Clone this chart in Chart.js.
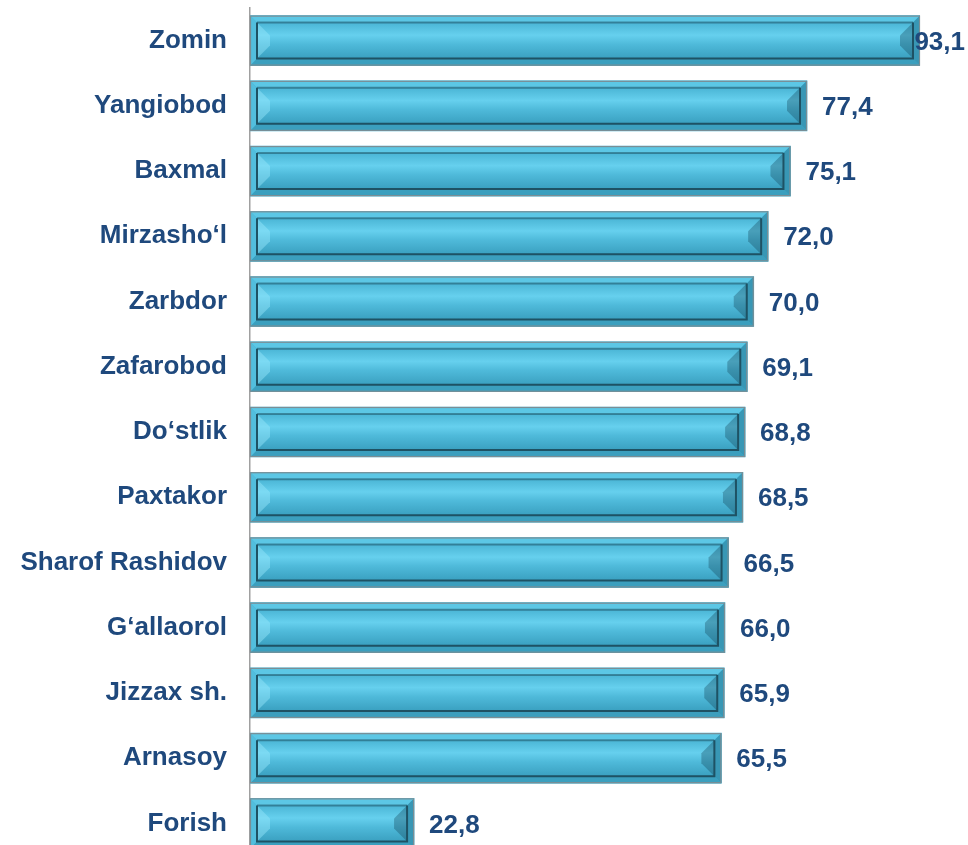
<!DOCTYPE html>
<html>
<head>
<meta charset="utf-8">
<script src="https://cdn.jsdelivr.net/npm/chart.js@4.4.0/dist/chart.umd.min.js"></script>
<style>
html,body{margin:0;padding:0;background:#fff;overflow:hidden;}
#wrap{position:absolute;left:0;top:0;width:968px;height:856px;}
</style>
</head>
<body>
<div id="wrap"><canvas id="c"></canvas></div>
<script>
const categories = ["Zomin","Yangiobod","Baxmal","Mirzasho‘l","Zarbdor","Zafarobod","Do‘stlik","Paxtakor","Sharof Rashidov","G‘allaorol","Jizzax sh.","Arnasoy","Forish"];
const values = [93.1,77.4,75.1,72.0,70.0,69.1,68.8,68.5,66.5,66.0,65.9,65.5,22.8];
const valueLabels = ["93,1","77,4","75,1","72,0","70,0","69,1","68,8","68,5","66,5","66,0","65,9","65,5","22,8"];

const TEXT = '#1F497D';
const FONT = 'bold 26px "Liberation Sans", Arial, sans-serif';

const bevelPlugin = {
  id: 'bevel',
  afterDatasetsDraw(chart) {
    const ctx = chart.ctx;
    const meta = chart.getDatasetMeta(0);
    meta.data.forEach((el) => {
      const p = el.getProps(['x','y','base','height'], true);
      const L = Math.min(p.base, p.x), R = Math.max(p.base, p.x);
      const T = p.y - p.height/2, B = p.y + p.height/2;
      const f = 7;
      ctx.save();
      const band = (pts, col) => { ctx.beginPath(); ctx.moveTo(pts[0][0],pts[0][1]); for (let i=1;i<pts.length;i++) ctx.lineTo(pts[i][0],pts[i][1]); ctx.closePath(); ctx.fillStyle = col; ctx.fill(); };
      band([[L,T],[R,T],[R-f,T+f],[L+f,T+f]], '#5CC7E5');
      band([[L,B],[R,B],[R-f,B-f],[L+f,B-f]], '#3B9FBE');
      band([[L,T],[L+f,T+f],[L+f,B-f],[L,B]], '#52BEDD');
      band([[R,T],[R-f,T+f],[R-f,B-f],[R,B]], '#3897B5');
      const iL = L+f, iR = R-f, iT = T+f, iB = B-f;
      const g = ctx.createLinearGradient(0, iT, 0, iB);
      g.addColorStop(0, '#4AB5D5');
      g.addColorStop(0.35, '#66D0EE');
      g.addColorStop(0.6, '#4FBADA');
      g.addColorStop(1, '#3AA0C0');
      ctx.fillStyle = g;
      ctx.fillRect(iL, iT, iR-iL, iB-iT);
      const w = 13;
      band([[iL,iT],[iL+w,iT+w],[iL+w,iB-w],[iL,iB]], 'rgba(150,230,250,0.45)');
      band([[iR,iT],[iR-w,iT+w],[iR-w,iB-w],[iR,iB]], 'rgba(20,70,90,0.35)');
      ctx.lineWidth = 2;
      ctx.strokeStyle = '#1E5264';
      ctx.beginPath();
      ctx.moveTo(iL, iT); ctx.lineTo(iL, iB); ctx.lineTo(iR, iB); ctx.lineTo(iR, iT);
      ctx.stroke();
      ctx.strokeStyle = 'rgba(30,82,100,0.55)';
      ctx.beginPath(); ctx.moveTo(iL, iT); ctx.lineTo(iR, iT); ctx.stroke();
      ctx.lineWidth = 1.2;
      ctx.strokeStyle = '#7A8E95';
      ctx.strokeRect(L+0.5, T+0.5, R-L-1, B-T-1);
      ctx.restore();
    });
  },
  afterDraw(chart) {
    const ctx = chart.ctx;
    const meta = chart.getDatasetMeta(0);
    ctx.save();
    ctx.font = FONT;
    ctx.fillStyle = TEXT;
    ctx.textBaseline = 'middle';
    ctx.textAlign = 'left';
    meta.data.forEach((el, i) => {
      const t = valueLabels[i];
      const tw = ctx.measureText(t).width;
      let x = el.x + 15;
      if (x + tw > chart.width - 3) x = chart.width - 3 - tw;
      ctx.fillText(t, x, el.y + 2);
    });
    ctx.restore();
  }
};

new Chart(document.getElementById('c'), {
  type: 'bar',
  data: {
    labels: categories,
    datasets: [{
      data: values,
      backgroundColor: '#45B0D0',
      borderWidth: 0,
      barThickness: 50,
      categoryPercentage: 1,
      barPercentage: 1
    }]
  },
  options: {
    indexAxis: 'y',
    responsive: true,
    maintainAspectRatio: false,
    animation: false,
    layout: { padding: { top: 8, right: 48, bottom: 0, left: 0 } },
    plugins: { legend: { display: false }, tooltip: { enabled: false } },
    scales: {
      x: { display: false, min: 0, max: 93.1 },
      y: {
        afterFit(scale) { scale.width = 250; scale.paddingTop = 0; scale.paddingBottom = 0; },
        grid: { display: false, drawTicks: false },
        border: { display: true, color: '#A0A0A0', width: 1.5 },
        ticks: {
          padding: 23,
          color: TEXT,
          font: { family: '"Liberation Sans", Arial, sans-serif', size: 26, weight: 'bold' }
        }
      }
    }
  },
  plugins: [bevelPlugin]
});
</script>
</body>
</html>
